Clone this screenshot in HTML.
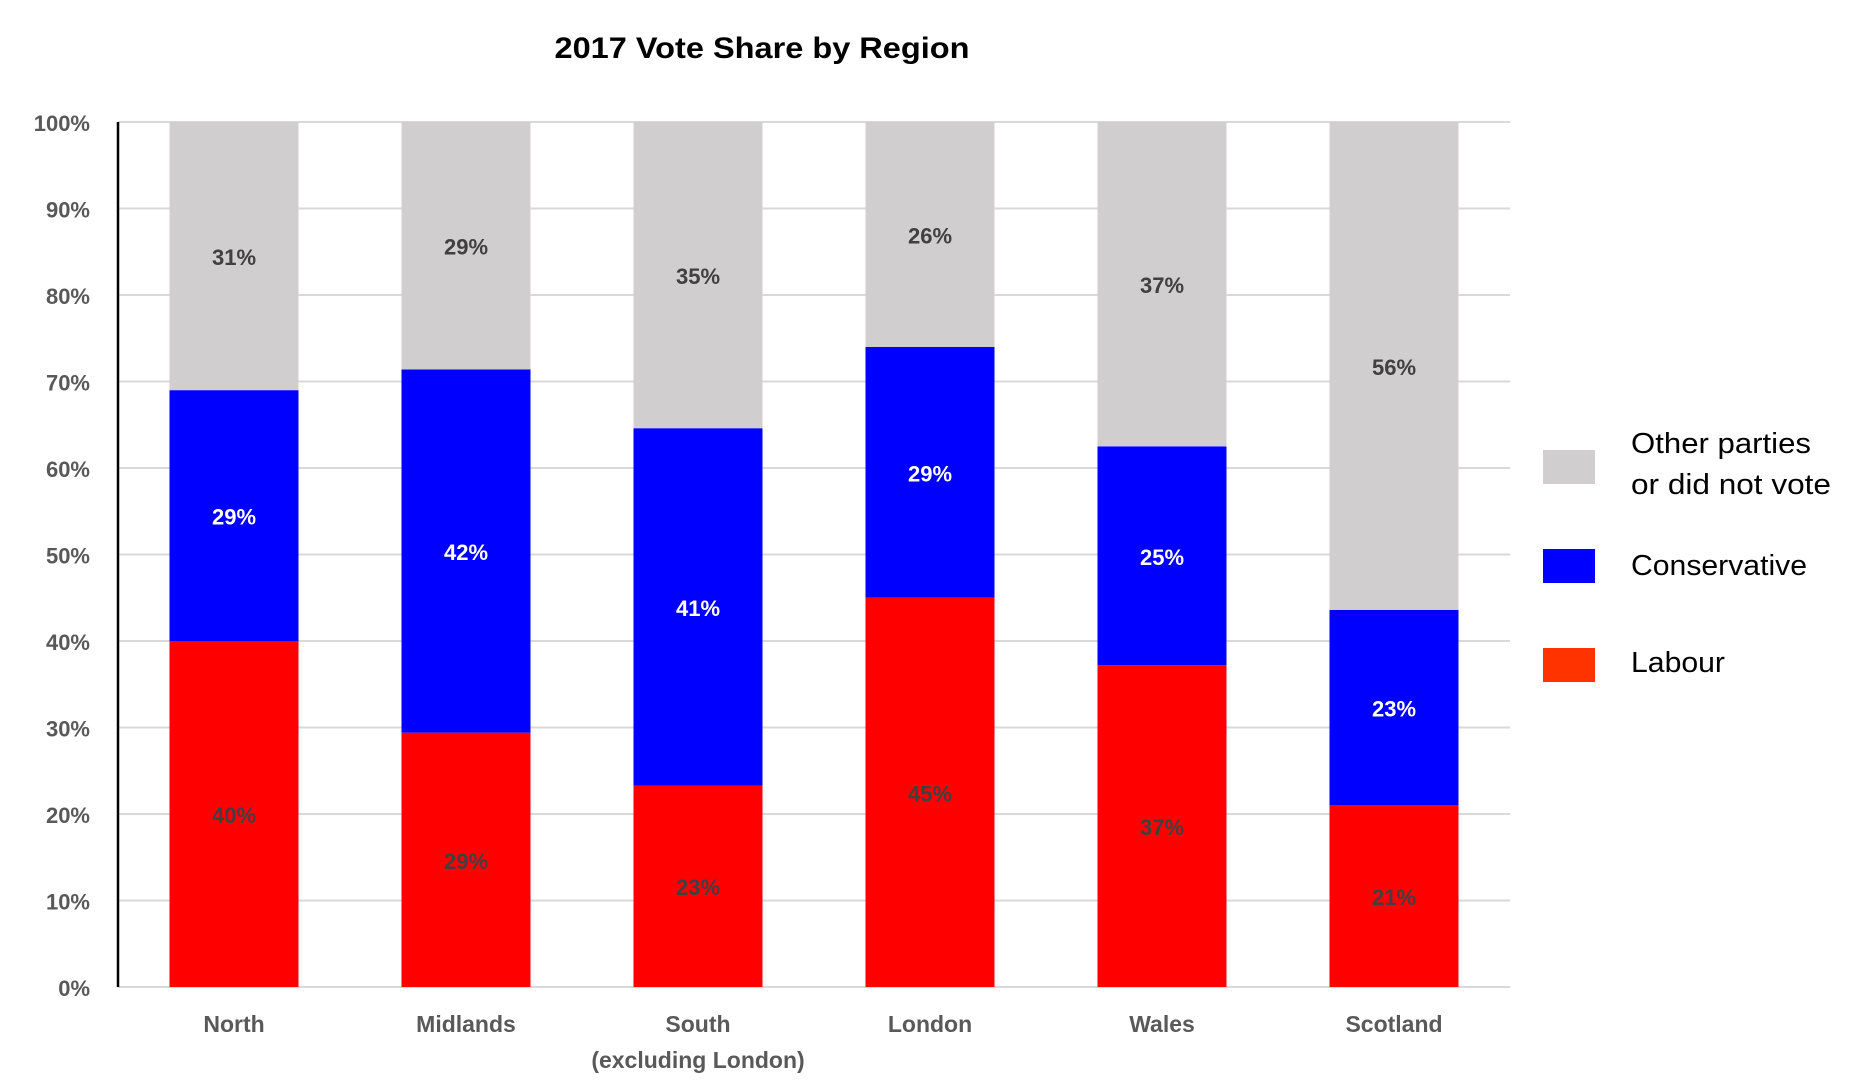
<!DOCTYPE html>
<html><head><meta charset="utf-8"><style>
html,body{margin:0;padding:0;background:#fff;}
svg{display:block;font-family:"Liberation Sans",sans-serif;}
</style></head><body>
<svg id="chart" width="1873" height="1090" viewBox="0 0 1873 1090">
<text x="762" y="58" text-anchor="middle" font-size="30" font-weight="bold" fill="#000" textLength="415" lengthAdjust="spacingAndGlyphs">2017 Vote Share by Region</text>
<g id="grid"></g>
<g id="bars"></g>
<g id="labels"></g>
<line x1="118" y1="122" x2="118" y2="987" stroke="#000" stroke-width="2.5"/>
<g>
<rect x="1543" y="450" width="52" height="34" fill="#D0CECE"/>
<text x="1631" y="453" font-size="29" fill="#000" textLength="180" lengthAdjust="spacingAndGlyphs">Other parties</text>
<text x="1631" y="494" font-size="29" fill="#000" textLength="200" lengthAdjust="spacingAndGlyphs">or did not vote</text>
<rect x="1543" y="549" width="52" height="34" fill="#0000FF"/>
<text x="1631" y="575" font-size="29" fill="#000" textLength="176" lengthAdjust="spacingAndGlyphs">Conservative</text>
<rect x="1543" y="648" width="52" height="34" fill="#FF3300"/>
<text x="1631" y="672" font-size="29" fill="#000" textLength="94" lengthAdjust="spacingAndGlyphs">Labour</text>
</g>
</svg>
<script>
const categories = ["North","Midlands","South","London","Wales","Scotland"];
const subLabels = ["","","(excluding London)","","",""];
const labour = [40,29.4,23.3,45,37.2,21];
const conservative = [29,42,41.3,29,25.3,22.6];
const other = [31,28.6,35.4,26,37.5,56.4];
const labourText = ["40%","29%","23%","45%","37%","21%"];
const conText = ["29%","42%","41%","29%","25%","23%"];
const otherText = ["31%","29%","35%","26%","37%","56%"];
const yTicks = [0,10,20,30,40,50,60,70,80,90,100];

const NS="http://www.w3.org/2000/svg";
const x0=118, band=232, barW=129, yTop=122, yBot=987;
function y(v){return yBot-(yBot-yTop)*v/100;}
function xc(i){return x0+band*(i+0.5);}
function mk(tag,attrs,parent){const e=document.createElementNS(NS,tag);for(const k in attrs)e.setAttribute(k,attrs[k]);parent.appendChild(e);return e;}
const grid=document.getElementById('grid'),bars=document.getElementById('bars'),labels=document.getElementById('labels');
yTicks.forEach(t=>{
  const l=mk('line',{x1:x0,x2:x0+band*6,y1:y(t),y2:y(t),stroke:'#D9D9D9','stroke-width':2},grid);
  
  
  const tx=mk('text',{x:90,y:y(t)+9,'text-anchor':'end','font-size':22,'font-weight':'bold',fill:'#595959'},grid);
  tx.textContent=t+'%';
  
  
});
const series=[[labour,'#FF0000',labourText,'#404040','labour'],[conservative,'#0000FF',conText,'#FFFFFF','conservative'],[other,'#D0CECE',otherText,'#404040','other']];
categories.forEach((c,i)=>{
  let base=0;
  series.forEach(s=>{
    const v=s[0][i];
    const r=mk('rect',{x:xc(i)-barW/2,y:y(base+v),width:barW,height:y(base)-y(base+v),fill:s[1]},bars);
    
    
    const t=mk('text',{x:xc(i),y:y(base+v/2)+9,'text-anchor':'middle','font-size':22,'font-weight':'bold',fill:s[3]},labels);
    t.textContent=s[2][i];
    
    
    base+=v;
  });
  const ct=mk('text',{x:xc(i),y:1032,'text-anchor':'middle','font-size':23,'font-weight':'bold',fill:'#595959'},labels);
  ct.textContent=c;
  
  
  if(subLabels[i]){
    const st=mk('text',{x:xc(i),y:1068,'text-anchor':'middle','font-size':23,'font-weight':'bold',fill:'#595959'},labels);
    st.textContent=subLabels[i];
    
    
  }
});
</script>
</body></html>
